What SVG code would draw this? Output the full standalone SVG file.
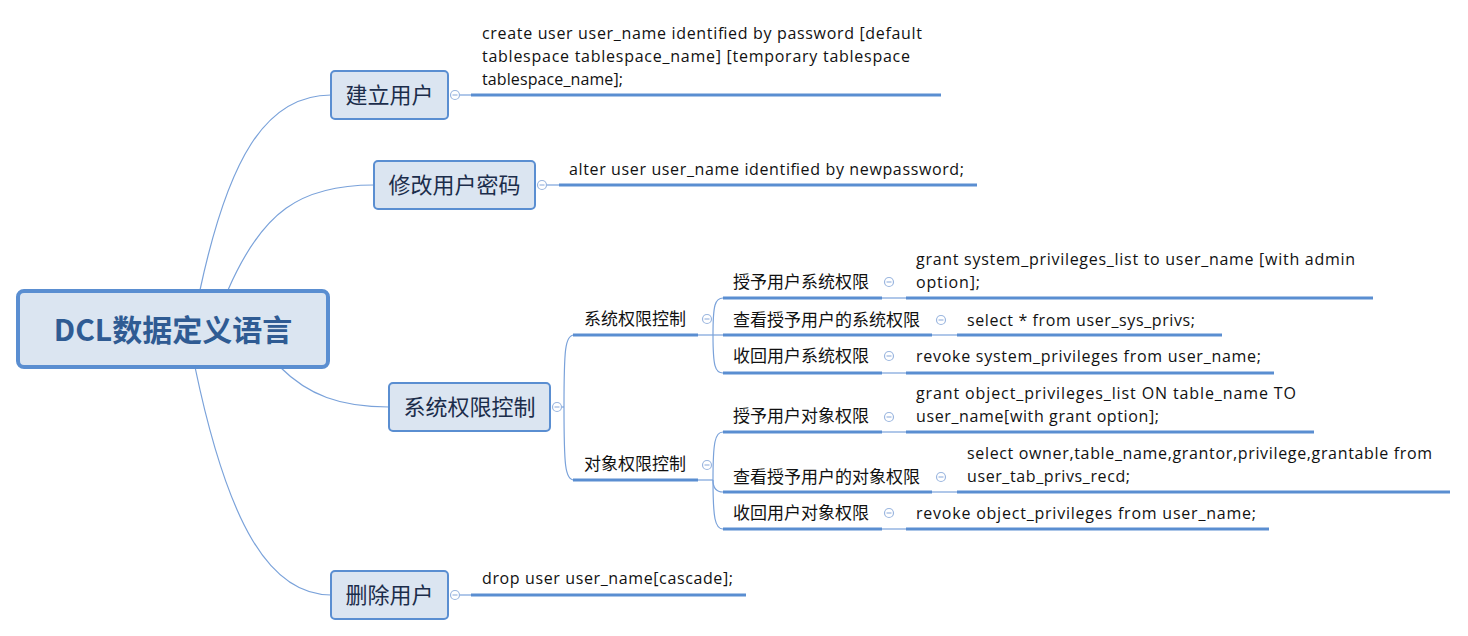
<svg xmlns="http://www.w3.org/2000/svg" width="1468" height="636" viewBox="0 0 1468 636">
<style>
.bg{fill:#ffffff}
.conn{fill:none;stroke:#7aa2da;stroke-width:1.2}
.ul{fill:none;stroke:#5a8ed1;stroke-width:3}
.box{fill:#dbe5f1;stroke:#5a8ed1;stroke-width:2}
.root{fill:#dbe5f1;stroke:#5a8ed1;stroke-width:4}
.col{fill:#ffffff;stroke:#9bb6df;stroke-width:1.2}
.minus{stroke:#9bb6df;stroke-width:1.2}
.rt{font-family:"Noto Sans CJK SC","Liberation Sans",sans-serif;font-weight:bold;font-size:30px;fill:#2f5b93}
.bt{font-family:"Noto Sans CJK SC",sans-serif;font-size:22px;fill:#1b2d4b}
.st{font-family:"Noto Sans CJK SC",sans-serif;font-size:17px;fill:#111}
.lt{font-family:"Open Sans","Noto Sans",sans-serif;font-size:16px;fill:#111}
</style>
<rect class="bg" x="0" y="0" width="1468" height="636"/>
<defs>
<g id="cb"><circle class="col" cx="0" cy="0" r="4.5"/><line class="minus" x1="-2.5" y1="0" x2="2.5" y2="0"/></g>
</defs>

<g id="connectors">
<path class="conn" d="M200,290 C228,160 265,95 331,95"/>
<path class="conn" d="M228,290 C262,212 300,185 374,185"/>
<path class="conn" d="M280,367 C308,395 340,407 389,407"/>
<path class="conn" d="M195,367 C228,525 270,595 331,595"/>
<path class="conn" d="M459.5,95 H471"/>
<path class="conn" d="M546.5,185 H559"/>
<path class="conn" d="M459.5,595 H471"/>
<path class="conn" d="M561.5,407 H564"/>
<path class="conn" d="M564,407 C564,350 565,335 574,335"/>
<path class="conn" d="M564,407 C564,465 565,480 574,480"/>
<path class="conn" d="M698,335 H723"/>
<path class="conn" d="M713,335 C713,305 715,298 723,298"/>
<path class="conn" d="M713,335 C713,366 715,373 723,373"/>
<path class="conn" d="M698,480 H713"/>
<path class="conn" d="M713,480 C713,442 715,432 723,432"/>
<path class="conn" d="M713,480 C713,488 716,492 723,492"/>
<path class="conn" d="M713,480 C713,518 715,529 723,529"/>
<path class="conn" d="M882,298 H906"/>
<path class="conn" d="M932,335 H957"/>
<path class="conn" d="M882,373 H906"/>
<path class="conn" d="M882,432 H906"/>
<path class="conn" d="M932,492 H957"/>
<path class="conn" d="M882,529 H906"/>
</g>

<g id="root">
<rect class="root" x="18" y="291" width="310" height="76" rx="6"/>
<text class="rt" x="173" y="341" text-anchor="middle">DCL数据定义语言</text>
</g>

<g id="b1">
<rect class="box" x="331" y="71" width="117" height="48" rx="4"/>
<text class="bt" x="389.5" y="103" text-anchor="middle">建立用户</text>
<use href="#cb" x="455" y="95"/>
</g>
<g id="b1-leaf">
<line class="ul" x1="471" y1="95" x2="941" y2="95"/>
<text class="lt" x="482" y="39" textLength="440">create user user_name identified by password [default</text>
<text class="lt" x="482" y="62" textLength="428">tablespace tablespace_name] [temporary tablespace</text>
<text class="lt" x="482" y="85" textLength="141">tablespace_name];</text>
</g>

<g id="b2">
<rect class="box" x="374" y="161" width="161" height="48" rx="4"/>
<text class="bt" x="454.5" y="193" text-anchor="middle">修改用户密码</text>
<use href="#cb" x="542" y="185"/>
</g>
<g id="b2-leaf">
<line class="ul" x1="559" y1="185" x2="977" y2="185"/>
<text class="lt" x="569" y="175" textLength="395">alter user user_name identified by newpassword;</text>
</g>

<g id="b3">
<rect class="box" x="389" y="383" width="161" height="48" rx="4"/>
<text class="bt" x="469.5" y="415" text-anchor="middle">系统权限控制</text>
<use href="#cb" x="557" y="407"/>
</g>

<g id="s1">
<line class="ul" x1="573" y1="335" x2="698" y2="335"/>
<text class="st" x="584" y="325">系统权限控制</text>
<use href="#cb" x="707" y="319"/>
</g>
<g id="s2">
<line class="ul" x1="573" y1="480" x2="698" y2="480"/>
<text class="st" x="584" y="470">对象权限控制</text>
<use href="#cb" x="707" y="465"/>
</g>

<g id="s1c1">
<line class="ul" x1="723" y1="298" x2="882" y2="298"/>
<text class="st" x="733" y="288">授予用户系统权限</text>
<use href="#cb" x="889" y="282"/>
</g>
<g id="s1c1-leaf">
<line class="ul" x1="906" y1="298" x2="1373" y2="298"/>
<text class="lt" x="916" y="265" textLength="439">grant system_privileges_list to user_name [with admin</text>
<text class="lt" x="916" y="288" textLength="64">option];</text>
</g>

<g id="s1c2">
<line class="ul" x1="723" y1="335" x2="932" y2="335"/>
<text class="st" x="733" y="326">查看授予用户的系统权限</text>
<use href="#cb" x="941" y="320"/>
</g>
<g id="s1c2-leaf">
<line class="ul" x1="957" y1="335" x2="1222" y2="335"/>
<text class="lt" x="967" y="326" textLength="228">select * from user_sys_privs;</text>
</g>

<g id="s1c3">
<line class="ul" x1="723" y1="373" x2="882" y2="373"/>
<text class="st" x="733" y="362">收回用户系统权限</text>
<use href="#cb" x="889" y="356"/>
</g>
<g id="s1c3-leaf">
<line class="ul" x1="906" y1="373" x2="1274" y2="373"/>
<text class="lt" x="916" y="362" textLength="345">revoke system_privileges from user_name;</text>
</g>

<g id="s2c1">
<line class="ul" x1="723" y1="432" x2="882" y2="432"/>
<text class="st" x="733" y="422">授予用户对象权限</text>
<use href="#cb" x="889" y="417"/>
</g>
<g id="s2c1-leaf">
<line class="ul" x1="906" y1="432" x2="1314" y2="432"/>
<text class="lt" x="916" y="399" textLength="380">grant object_privileges_list ON table_name TO</text>
<text class="lt" x="916" y="422" textLength="243">user_name[with grant option];</text>
</g>

<g id="s2c2">
<line class="ul" x1="723" y1="492" x2="932" y2="492"/>
<text class="st" x="733" y="483">查看授予用户的对象权限</text>
<use href="#cb" x="941" y="477"/>
</g>
<g id="s2c2-leaf">
<line class="ul" x1="957" y1="492" x2="1450" y2="492"/>
<text class="lt" x="967" y="459" textLength="465">select owner,table_name,grantor,privilege,grantable from</text>
<text class="lt" x="967" y="482" textLength="163">user_tab_privs_recd;</text>
</g>

<g id="s2c3">
<line class="ul" x1="723" y1="529" x2="882" y2="529"/>
<text class="st" x="733" y="519">收回用户对象权限</text>
<use href="#cb" x="889" y="513"/>
</g>
<g id="s2c3-leaf">
<line class="ul" x1="906" y1="529" x2="1269" y2="529"/>
<text class="lt" x="916" y="519" textLength="340">revoke object_privileges from user_name;</text>
</g>

<g id="b4">
<rect class="box" x="331" y="571" width="117" height="48" rx="4"/>
<text class="bt" x="389.5" y="603" text-anchor="middle">删除用户</text>
<use href="#cb" x="455" y="595"/>
</g>
<g id="b4-leaf">
<line class="ul" x1="471" y1="595" x2="746" y2="595"/>
<text class="lt" x="482" y="584" textLength="251">drop user user_name[cascade];</text>
</g>
</svg>
